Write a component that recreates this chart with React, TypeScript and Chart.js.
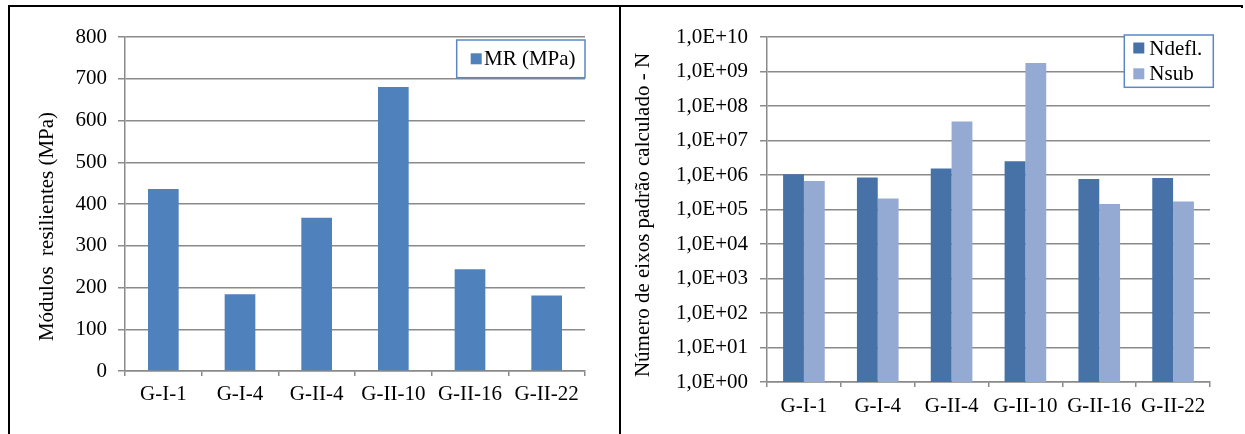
import React, { useEffect, useRef } from 'react';
import { Chart, registerables } from 'chart.js';

Chart.register(...registerables);

// ---------- data ----------
const categories = ['G-I-1', 'G-I-4', 'G-II-4', 'G-II-10', 'G-II-16', 'G-II-22'];
const mrValues = [436, 184, 367, 680, 244, 181];
const ndeflValues = [1.05e6, 8.4e5, 1.55e6, 2.5e6, 7.7e5, 8.2e5];
const nsubValues = [6.7e5, 2.1e5, 3.55e7, 1.75e9, 1.44e5, 1.71e5];
const mrTicks = [0, 100, 200, 300, 400, 500, 600, 700, 800];
const logTickValues = [1, 1e1, 1e2, 1e3, 1e4, 1e5, 1e6, 1e7, 1e8, 1e9, 1e10];
const logTickLabels = [
  '1,0E+00', '1,0E+01', '1,0E+02', '1,0E+03', '1,0E+04', '1,0E+05',
  '1,0E+06', '1,0E+07', '1,0E+08', '1,0E+09', '1,0E+10',
];
const leftTitle = 'Módulos  resilientes (MPa)';
const rightTitle = 'Número de eixos padrão calculado - N';

// ---------- styles ----------
const FONT = "'Liberation Serif', 'Times New Roman', serif";
const FSIZE = 21;
const GRID = '#8a8a8a';

const boxLegendPlugin = {
  id: 'boxLegend',
  afterDraw(chart: any, _args: any, opts: any) {
    const { ctx } = chart;
    ctx.save();
    ctx.fillStyle = '#ffffff';
    ctx.fillRect(opts.x, opts.y, opts.w, opts.h);
    ctx.strokeStyle = opts.borderColor;
    ctx.lineWidth = 1.5;
    ctx.strokeRect(opts.x, opts.y, opts.w, opts.h);
    ctx.font = `${FSIZE}px ${FONT}`;
    ctx.textBaseline = 'middle';
    ctx.textAlign = 'left';
    chart.data.datasets.forEach((ds: any, i: number) => {
      const cy = opts.rows[i];
      ctx.fillStyle = ds.backgroundColor;
      ctx.fillRect(opts.markerX, cy - opts.markerSize / 2, opts.markerSize, opts.markerSize);
      ctx.fillStyle = '#000000';
      ctx.fillText(ds.label, opts.textX, cy + 1);
    });
    ctx.restore();
  },
};

const yTitlePlugin = {
  id: 'yTitle',
  afterDraw(chart: any, _args: any, opts: any) {
    const { ctx } = chart;
    ctx.save();
    ctx.translate(opts.x, opts.y);
    ctx.rotate(-Math.PI / 2);
    ctx.font = `${FSIZE}px ${FONT}`;
    ctx.fillStyle = '#000000';
    ctx.textAlign = 'center';
    ctx.textBaseline = 'middle';
    ctx.fillText(opts.text, 0, 0);
    ctx.restore();
  },
};

const tickFont = { family: FONT, size: FSIZE };

function xScale(height: number, padding: number) {
  return {
    type: 'category',
    grid: {
      display: true,
      drawOnChartArea: false,
      drawTicks: true,
      tickLength: 5,
      color: GRID,
      lineWidth: 1.5,
      offset: true,
    },
    border: { display: true, color: GRID, width: 1.5 },
    ticks: { color: '#000', font: tickFont, padding, maxRotation: 0, minRotation: 0, autoSkip: false },
    afterFit: (s: any) => {
      s.height = height;
    },
  };
}

function LeftChart() {
  const ref = useRef<HTMLCanvasElement | null>(null);
  useEffect(() => {
    if (!ref.current) return;
    const chart = new Chart(ref.current, {
      type: 'bar',
      data: {
        labels: categories,
        datasets: [
          {
            label: 'MR (MPa)',
            data: mrValues,
            backgroundColor: '#4f81bd',
            borderWidth: 0,
            categoryPercentage: 1,
            barPercentage: 0.4,
          },
        ],
      },
      options: {
        responsive: false,
        animation: false,
        devicePixelRatio: 1,
        layout: { padding: { top: 30, right: 34, left: 0, bottom: 0 } },
        scales: {
          x: xScale(63, 6),
          y: {
            type: 'linear',
            min: 0,
            max: 800,
            afterBuildTicks: (s: any) => {
              s.ticks = mrTicks.map((v) => ({ value: v }));
            },
            grid: { color: GRID, lineWidth: 1.5, tickLength: 7, drawTicks: true },
            border: { display: true, color: GRID, width: 1.5 },
            ticks: { color: '#000', font: tickFont, padding: 11 },
            afterFit: (s: any) => {
              s.width = 115;
            },
          },
        },
        plugins: {
          legend: { display: false },
          tooltip: { enabled: false },
          boxLegend: {
            x: 446.7,
            y: 33,
            w: 128.3,
            h: 37.7,
            borderColor: '#5b88c4',
            markerX: 460.7,
            markerSize: 11,
            textX: 474,
            rows: [51.8],
          },
          yTitle: { text: leftTitle, x: 37, y: 219.5 },
        },
      } as any,
      plugins: [boxLegendPlugin, yTitlePlugin],
    });
    return () => chart.destroy();
  }, []);
  return (
    <canvas
      ref={ref}
      width={609}
      height={427}
      style={{ position: 'absolute', left: 10, top: 7, width: 609, height: 427 }}
    />
  );
}

function RightChart() {
  const ref = useRef<HTMLCanvasElement | null>(null);
  useEffect(() => {
    if (!ref.current) return;
    const chart = new Chart(ref.current, {
      type: 'bar',
      data: {
        labels: categories,
        datasets: [
          {
            label: 'Ndefl.',
            data: ndeflValues,
            backgroundColor: '#4672a8',
            borderWidth: 0,
            categoryPercentage: 0.564,
            barPercentage: 1,
          },
          {
            label: 'Nsub',
            data: nsubValues,
            backgroundColor: '#95aad2',
            borderWidth: 0,
            categoryPercentage: 0.564,
            barPercentage: 1,
          },
        ],
      },
      options: {
        responsive: false,
        animation: false,
        devicePixelRatio: 1,
        layout: { padding: { top: 30, right: 35, left: 0, bottom: 0 } },
        scales: {
          x: xScale(52, 7),
          y: {
            type: 'logarithmic',
            min: 1,
            max: 1e10,
            afterBuildTicks: (s: any) => {
              s.ticks = logTickValues.map((v) => ({ value: v }));
            },
            grid: { color: GRID, lineWidth: 1.5, tickLength: 7, drawTicks: true },
            border: { display: true, color: GRID, width: 1.5 },
            ticks: {
              color: '#000',
              font: tickFont,
              padding: 12,
              callback: (v: any) => {
                const i = logTickValues.indexOf(Number(v));
                return i >= 0 ? logTickLabels[i] : '';
              },
            },
            afterFit: (s: any) => {
              s.width = 146;
            },
          },
        },
        plugins: {
          legend: { display: false },
          tooltip: { enabled: false },
          boxLegend: {
            x: 503.3,
            y: 28,
            w: 89,
            h: 52.3,
            borderColor: '#5b88c4',
            markerX: 512.3,
            markerSize: 11,
            textX: 528.3,
            rows: [41, 66.8],
          },
          yTitle: { text: rightTitle, x: 22, y: 208 },
        },
      } as any,
      plugins: [boxLegendPlugin, yTitlePlugin],
    });
    return () => chart.destroy();
  }, []);
  return (
    <canvas
      ref={ref}
      width={624}
      height={427}
      style={{ position: 'absolute', left: 621, top: 7, width: 624, height: 427 }}
    />
  );
}

export default function App() {
  return (
    <div
      style={{
        position: 'absolute',
        left: 0,
        top: 0,
        width: 1245,
        height: 434,
        background: '#ffffff',
        overflow: 'hidden',
      }}
    >
      <div style={{ position: 'absolute', left: 8, top: 5, width: 1233, height: 2, background: '#000' }} />
      <div style={{ position: 'absolute', left: 1241, top: 5, width: 2, height: 3, background: '#000' }} />
      <div style={{ position: 'absolute', left: 8, top: 5, width: 2, height: 429, background: '#000' }} />
      <div style={{ position: 'absolute', left: 619, top: 6, width: 2, height: 428, background: '#000' }} />
      <LeftChart />
      <RightChart />
    </div>
  );
}
